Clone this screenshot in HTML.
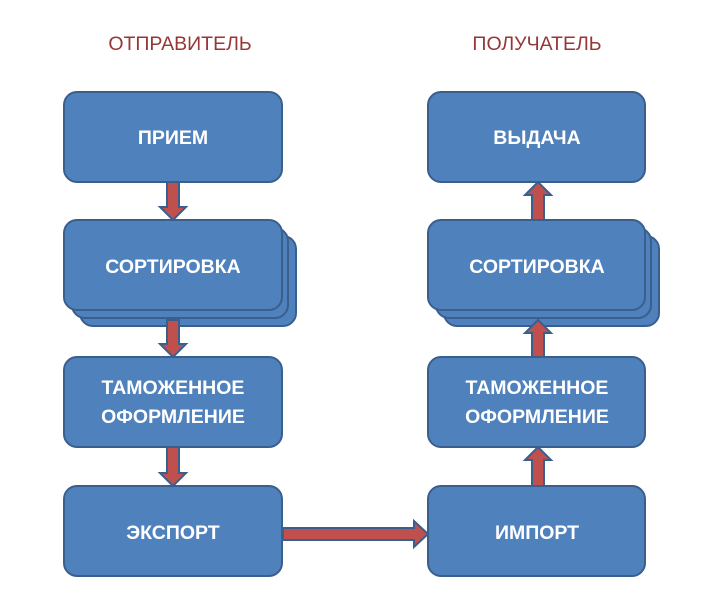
<!DOCTYPE html>
<html><head><meta charset="utf-8"><style>body{margin:0;background:#fff}svg{display:block}</style></head>
<body>
<svg width="712" height="612" viewBox="0 0 712 612" xmlns="http://www.w3.org/2000/svg" font-family="Liberation Sans, DejaVu Sans, sans-serif">
<g font-size="19.5" fill="#953735" text-anchor="middle">
<text x="180" y="50">ОТПРАВИТЕЛЬ</text>
<text x="537" y="50">ПОЛУЧАТЕЛЬ</text>
</g>
<g fill="#4f81bd" stroke="#3a5f8d" stroke-width="2">
<rect x="64" y="92" width="218" height="90" rx="13"/>
<rect x="80" y="236" width="216" height="90" rx="13"/>
<rect x="72" y="228" width="216" height="90" rx="13"/>
<rect x="64" y="220" width="218" height="90" rx="13"/>
<rect x="64" y="357" width="218" height="90" rx="13"/>
<rect x="64" y="486" width="218" height="90" rx="13"/>
<rect x="428" y="92" width="217" height="90" rx="13"/>
<rect x="444" y="236" width="215" height="90" rx="13"/>
<rect x="436" y="228" width="215" height="90" rx="13"/>
<rect x="428" y="220" width="217" height="90" rx="13"/>
<rect x="428" y="357" width="217" height="90" rx="13"/>
<rect x="428" y="486" width="217" height="90" rx="13"/>
</g>
<g fill="#c0504d" stroke="#3a5f8d" stroke-width="2" stroke-linejoin="miter">
<path d="M167 182 H179 V207 H186 L173 220 L160 207 H167 Z"/>
<path d="M167 320 H179 V344 H186 L173 357 L160 344 H167 Z"/>
<path d="M167 447 H179 V473 H186 L173 486 L160 473 H167 Z"/>
<path d="M532 220 H544 V195 H551 L538 182 L525 195 H532 Z"/>
<path d="M532 357 H544 V333 H551 L538 320 L525 333 H532 Z"/>
<path d="M532 486 H544 V460 H551 L538 447 L525 460 H532 Z"/>
<path d="M283 528 H414 V521 L428 534 L414 547 V540 H283 Z"/>
</g>
<g font-size="19.5" font-weight="bold" fill="#fff" text-anchor="middle">
<text x="173" y="144">ПРИЕМ</text>
<text x="173" y="273">СОРТИРОВКА</text>
<text x="173" y="394">ТАМОЖЕННОЕ</text>
<text x="173" y="423">ОФОРМЛЕНИЕ</text>
<text x="173" y="539">ЭКСПОРТ</text>
<text x="537" y="144">ВЫДАЧА</text>
<text x="537" y="273">СОРТИРОВКА</text>
<text x="537" y="394">ТАМОЖЕННОЕ</text>
<text x="537" y="423">ОФОРМЛЕНИЕ</text>
<text x="537" y="539">ИМПОРТ</text>
</g>
</svg>
</body></html>
